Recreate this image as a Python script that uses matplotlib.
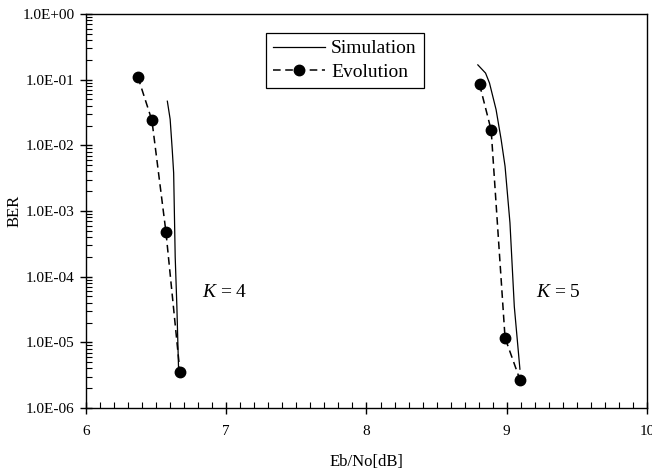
import matplotlib
matplotlib.use('Agg')
import matplotlib.pyplot as plt
from matplotlib.ticker import FixedLocator, LogLocator, MultipleLocator, NullFormatter

plt.rcParams['font.family'] = ['Liberation Serif', 'DejaVu Serif']
plt.rcParams['mathtext.fontset'] = 'custom'
plt.rcParams['mathtext.rm'] = 'Liberation Serif'
plt.rcParams['mathtext.it'] = 'Liberation Serif:italic'

# K = 4
sim4_x = [6.58, 6.60, 6.615, 6.625, 6.636, 6.648, 6.66]
sim4_y = [4.7e-2, 2.5e-2, 8.5e-3, 3.8e-3, 2.0e-4, 3.5e-5, 3.9e-6]
ev4_x = [6.37, 6.47, 6.57, 6.67]
ev4_y = [1.1e-1, 2.4e-2, 4.8e-4, 3.5e-6]

# K = 5
sim5_x = [8.794, 8.849, 8.877, 8.924, 8.96, 8.988, 9.023, 9.054, 9.094]
sim5_y = [1.68e-1, 1.26e-1, 8.9e-2, 3.5e-2, 1.23e-2, 4.8e-3, 6.6e-4, 3.5e-5, 3.9e-6]
ev5_x = [8.806, 8.889, 8.988, 9.094]
ev5_y = [8.5e-2, 1.7e-2, 1.17e-5, 2.7e-6]

y_ticks = [1e0, 1e-1, 1e-2, 1e-3, 1e-4, 1e-5, 1e-6]
y_labels = ['1.0E+00', '1.0E-01', '1.0E-02', '1.0E-03', '1.0E-04', '1.0E-05', '1.0E-06']
x_ticks = [6, 7, 8, 9, 10]

fig = plt.figure(figsize=(6.52, 4.72), dpi=100)
ax = fig.add_axes([0.1319, 0.1356, 0.8604, 0.8347])

ax.plot(sim4_x, sim4_y, color='black', lw=0.9, label='Simulation')
ax.plot(ev4_x, ev4_y, color='black', lw=1.1, dashes=(5, 3),
        marker='o', markersize=7.5, label='Evolution')
ax.plot(sim5_x, sim5_y, color='black', lw=0.9)
ax.plot(ev5_x, ev5_y, color='black', lw=1.1, dashes=(5, 3),
        marker='o', markersize=7.5)

ax.set_yscale('log')
ax.set_xlim(6, 10)
ax.set_ylim(1e-6, 1e0)

ax.yaxis.set_major_locator(FixedLocator(y_ticks))
ax.set_yticklabels(y_labels)
ax.yaxis.set_minor_locator(LogLocator(base=10, subs=range(2, 10), numticks=20))
ax.yaxis.set_minor_formatter(NullFormatter())
ax.xaxis.set_major_locator(FixedLocator(x_ticks))
ax.xaxis.set_minor_locator(MultipleLocator(0.1))

ax.tick_params(which='major', direction='inout', length=8, width=1, labelsize=11)
ax.tick_params(axis='x', which='major', pad=8)
ax.tick_params(axis='y', which='major', pad=4)
ax.tick_params(which='minor', direction='in', length=4, width=0.8)
ax.tick_params(top=False, right=False, which='both')
for s in ax.spines.values():
    s.set_linewidth(1.0)

ax.set_xlabel('Eb/No[dB]', fontsize=12, labelpad=12)
ax.set_ylabel('BER', fontsize=12, labelpad=0)

ax.text(6.83, 10**-4.24, r'$K$ = 4', fontsize=14, va='center', ha='left')
ax.text(9.21, 10**-4.24, r'$K$ = 5', fontsize=14, va='center', ha='left')

leg = ax.legend(loc='upper left', bbox_to_anchor=(0.321, 0.952), borderaxespad=0,
                fontsize=14, fancybox=False, framealpha=1, edgecolor='black',
                handlelength=2.7, borderpad=0.35, labelspacing=0.3, handletextpad=0.3)
leg.get_frame().set_linewidth(0.9)

fig.savefig('out.png', dpi=100)
